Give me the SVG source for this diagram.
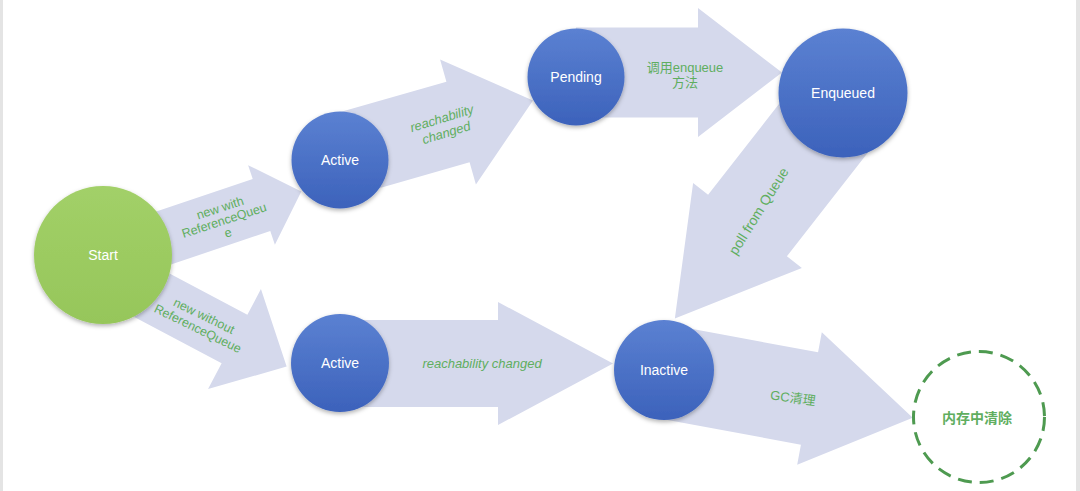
<svg xmlns="http://www.w3.org/2000/svg" width="1080" height="491" viewBox="0 0 1080 491">
<defs>
<linearGradient id="blue" x1="0" y1="0" x2="0" y2="1">
<stop offset="0" stop-color="#5b81d2"/>
<stop offset="1" stop-color="#3c62bb"/>
</linearGradient>
<linearGradient id="green" x1="0" y1="0" x2="0" y2="1">
<stop offset="0" stop-color="#a2d068"/>
<stop offset="1" stop-color="#96c65a"/>
</linearGradient>
<filter id="sh" x="-20%" y="-20%" width="140%" height="150%">
<feDropShadow dx="0" dy="2" stdDeviation="2" flood-color="#000" flood-opacity="0.3"/>
</filter>
</defs>
<style>
.arr{fill:#d5d9ec}
.node{fill:url(#blue);filter:url(#sh)}
.nt{font-family:"Liberation Sans","Noto Sans",sans-serif;font-size:14px;fill:#ffffff;text-anchor:middle}
.lbl{font-family:"Liberation Sans","Noto Sans CJK SC",sans-serif;font-size:13px;fill:#5fae5f;text-anchor:middle}
.it{font-style:italic}
</style>
<rect x="0" y="0" width="1080" height="491" fill="#ffffff"/>
<rect x="0" y="0" width="3" height="491" fill="#e4e4e4"/>
<rect x="1076" y="0" width="4" height="491" fill="#e4e4e4"/>
<g id="connectors">
<path class="arr" transform="translate(261.5,205) rotate(-18.6)" d="M -166,-27.5 H 0 V -42 L 42,0 L 0,42 V 27.5 H -166 Z"/>
<path class="arr" transform="translate(458,122) rotate(-16)" d="M -124,-42 H 0 V -65 L 78,0 L 0,65 V 42 H -124 Z"/>
<path class="arr" transform="translate(698,72.5)" d="M -122,-45 H 0 V -64.5 L 84,0 L 0,64.5 V 45 H -122 Z"/>
<path class="arr" transform="translate(747.5,225.5) rotate(128)" d="M -163,-50 H 0 V -69 L 118,0 L 0,69 V 50 H -163 Z"/>
<path class="arr" transform="translate(234.5,339) rotate(27.9)" d="M -156,-27.5 H 0 V -56.5 L 59,0 L 0,56.5 V 27.5 H -156 Z"/>
<path class="arr" transform="translate(498,363.5)" d="M -158,-43.5 H 0 V -61.5 L 115,0 L 0,61.5 V 43.5 H -158 Z"/>
<path class="arr" transform="translate(809.5,398.5) rotate(10.5)" d="M -148,-47 H 0 V -67.5 L 105,0 L 0,67.5 V 47 H -148 Z"/>
<g transform="translate(224,220) rotate(-18)" class="lbl" style="font-size:12.5px">
<text x="0" y="-8.5">new with</text>
<text x="0" y="4.5">ReferenceQueu</text>
<text x="0" y="17.5">e</text>
</g>
<g transform="translate(201,322) rotate(26)" class="lbl" style="font-size:12.5px">
<text x="0" y="-2.5">new without</text>
<text x="0" y="11.5">ReferenceQueue</text>
</g>
<g transform="translate(444,125.5) rotate(-17)" class="lbl it">
<text x="0" y="-3">reachability</text>
<text x="0" y="12">changed</text>
</g>
<text class="lbl" x="685" y="71.5">调用enqueue</text>
<text class="lbl" x="685" y="86.5">方法</text>
<text class="lbl" transform="translate(758.5,211) rotate(-58)" x="0" y="5" style="font-size:14px">poll from Queue</text>
<text class="lbl it" x="482" y="367.5">reachability changed</text>
<text class="lbl" transform="translate(793,398) rotate(8)" x="0" y="4.5">GC清理</text>
</g>
<g id="start">
<circle cx="103" cy="255" r="69" fill="url(#green)" filter="url(#sh)"/>
<text class="nt" x="103" y="260">Start</text>
</g>
<g id="active1">
<circle class="node" cx="340" cy="160" r="48.5"/>
<text class="nt" x="340" y="165">Active</text>
</g>
<g id="pending">
<circle class="node" cx="576" cy="77" r="48.5"/>
<text class="nt" x="576" y="82">Pending</text>
</g>
<g id="enqueued">
<circle class="node" cx="843" cy="93" r="64.5"/>
<text class="nt" x="843" y="98">Enqueued</text>
</g>
<g id="active2">
<circle class="node" cx="340" cy="363" r="49"/>
<text class="nt" x="340" y="368">Active</text>
</g>
<g id="inactive">
<circle class="node" cx="664" cy="370" r="50"/>
<text class="nt" x="664" y="375">Inactive</text>
</g>
<g id="cleared">
<circle cx="979" cy="417" r="65.5" fill="none" stroke="#4e9a50" stroke-width="3" stroke-dasharray="14 8"/>
<text class="lbl" x="977" y="423" style="font-size:14px;font-weight:bold">内存中清除</text>
</g>
</svg>
